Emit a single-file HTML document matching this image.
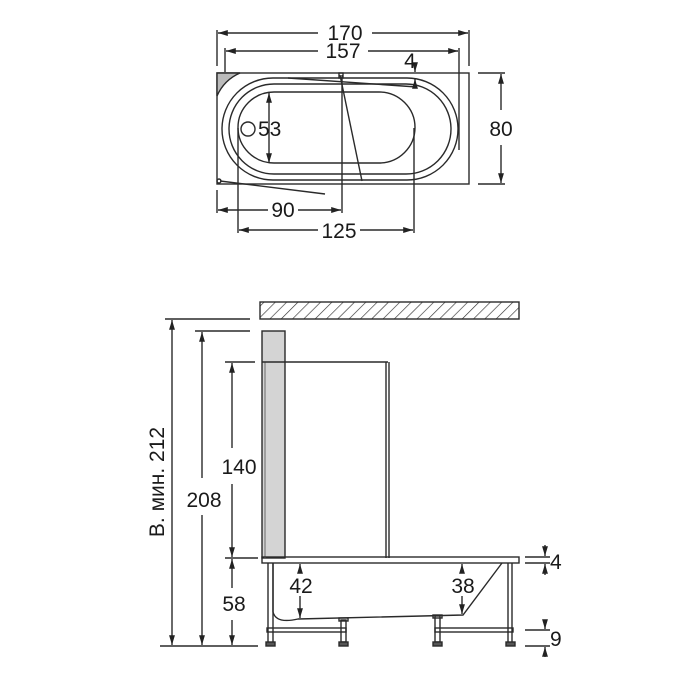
<!DOCTYPE html>
<html><head><meta charset="utf-8"><style>
html,body{margin:0;padding:0;background:#fff;}
svg{display:block;}
text{font-family:"Liberation Sans",sans-serif;fill:#1a1a1a;font-size:21px;}
</style></head><body>
<svg width="700" height="700" viewBox="0 0 700 700" xmlns="http://www.w3.org/2000/svg">
<defs>
<pattern id="h" width="8" height="8" patternUnits="userSpaceOnUse" patternTransform="rotate(45)">
<line x1="0" y1="0" x2="0" y2="8" stroke="#333" stroke-width="1.3"/>
</pattern>
<marker id="a" viewBox="0 0 10 10" refX="10" refY="5" markerWidth="7" markerHeight="7" orient="auto-start-reverse">
<path d="M0,2 L10,5 L0,8 z" fill="#222"/>
</marker>
</defs>
<g stroke="#2a2a2a" stroke-width="1.4" fill="none">
<!-- TOP VIEW -->
<rect x="217" y="73" width="252" height="111"/>
<path d="M217,73 L240,73 Q224,80 217,96 Z" fill="#bbb"/>
<rect x="222" y="78" width="236" height="102" rx="51"/>
<rect x="229" y="84" width="222" height="90" rx="45"/>
<rect x="238" y="92" width="177" height="71" rx="36"/>
<line x1="288" y1="78" x2="417" y2="87"/>
<line x1="340" y1="75" x2="362" y2="181"/>
<rect x="339" y="73" width="4" height="5"/>
<line x1="220" y1="181" x2="325" y2="194"/>
<circle cx="219" cy="181" r="2"/>
<circle cx="248" cy="129" r="7"/>
<!-- dims top -->
<line x1="217" y1="30" x2="217" y2="66"/><line x1="469" y1="30" x2="469" y2="66"/>
<line x1="218" y1="33" x2="318" y2="33" marker-start="url(#a)"/><line x1="372" y1="33" x2="468" y2="33" marker-end="url(#a)"/>
<line x1="225" y1="48" x2="225" y2="72"/><line x1="459" y1="48" x2="459" y2="150"/>
<line x1="226" y1="51" x2="318" y2="51" marker-start="url(#a)"/><line x1="368" y1="51" x2="458" y2="51" marker-end="url(#a)"/>
<line x1="415" y1="64" x2="415" y2="72" marker-end="url(#a)"/>
<line x1="415" y1="88" x2="415" y2="79" marker-end="url(#a)"/>
<line x1="478" y1="73" x2="505" y2="73"/><line x1="478" y1="184" x2="505" y2="184"/>
<line x1="501" y1="74" x2="501" y2="110" marker-start="url(#a)"/><line x1="501" y1="145" x2="501" y2="183" marker-end="url(#a)"/>
<line x1="269" y1="93" x2="269" y2="163" marker-start="url(#a)" marker-end="url(#a)"/>
<line x1="217" y1="190" x2="217" y2="213"/><line x1="342" y1="75" x2="342" y2="213"/>
<line x1="218" y1="210" x2="268" y2="210" marker-start="url(#a)"/><line x1="298" y1="210" x2="341" y2="210" marker-end="url(#a)"/>
<line x1="238" y1="128" x2="238" y2="233"/><line x1="414" y1="128" x2="414" y2="233"/>
<line x1="239" y1="230" x2="318" y2="230" marker-start="url(#a)"/><line x1="360" y1="230" x2="413" y2="230" marker-end="url(#a)"/>

<!-- SIDE VIEW -->
<rect x="260" y="302" width="259" height="17" fill="url(#h)"/>
<rect x="262" y="331" width="23" height="227" fill="#d4d4d4"/>
<line x1="265" y1="362" x2="265" y2="558" stroke="#888"/>
<line x1="262" y1="362" x2="388" y2="362"/>
<line x1="386" y1="362" x2="386" y2="558"/><line x1="389" y1="362" x2="389" y2="558"/>
<rect x="262" y="557" width="257" height="6"/>
<path d="M273,563 L273,612 Q276,624 298,619 L463,615 L502,563"/>
<!-- legs -->
<line x1="268" y1="563" x2="268" y2="642"/><line x1="273" y1="563" x2="273" y2="642"/>
<line x1="508" y1="563" x2="508" y2="642"/><line x1="512" y1="563" x2="512" y2="642"/>
<rect x="341" y="620" width="5" height="22"/><rect x="339" y="618" width="9" height="3"/>
<rect x="435" y="616" width="5" height="26"/><rect x="433" y="615" width="9" height="3"/>
<rect x="267" y="628" width="79" height="4"/><rect x="435" y="628" width="78" height="4"/>
<rect x="266" y="642" width="9" height="4" fill="#555"/><rect x="339" y="642" width="9" height="4" fill="#555"/>
<rect x="433" y="642" width="9" height="4" fill="#555"/><rect x="506" y="642" width="9" height="4" fill="#555"/>
<!-- dims side -->
<line x1="165" y1="319" x2="250" y2="319"/>
<line x1="195" y1="331" x2="250" y2="331"/>
<line x1="225" y1="362" x2="255" y2="362"/>
<line x1="225" y1="558" x2="258" y2="558"/>
<line x1="160" y1="646" x2="258" y2="646"/>
<line x1="172" y1="320" x2="172" y2="645" marker-start="url(#a)" marker-end="url(#a)"/>
<line x1="202" y1="332" x2="202" y2="478" marker-start="url(#a)"/><line x1="202" y1="515" x2="202" y2="645" marker-end="url(#a)"/>
<line x1="232" y1="363" x2="232" y2="448" marker-start="url(#a)"/><line x1="232" y1="484" x2="232" y2="557" marker-end="url(#a)"/>
<line x1="232" y1="559" x2="232" y2="588" marker-start="url(#a)"/><line x1="232" y1="620" x2="232" y2="645" marker-end="url(#a)"/>
<line x1="300" y1="564" x2="300" y2="570" marker-start="url(#a)"/><line x1="300" y1="596" x2="300" y2="618" marker-end="url(#a)"/>
<line x1="462" y1="564" x2="462" y2="570" marker-start="url(#a)"/><line x1="462" y1="596" x2="462" y2="614" marker-end="url(#a)"/>
<line x1="525" y1="557" x2="550" y2="557"/><line x1="525" y1="563" x2="550" y2="563"/>
<line x1="545" y1="545" x2="545" y2="556" marker-end="url(#a)"/><line x1="545" y1="575" x2="545" y2="564" marker-end="url(#a)"/>
<line x1="525" y1="630" x2="550" y2="630"/><line x1="525" y1="646" x2="550" y2="646"/>
<line x1="545" y1="620" x2="545" y2="629" marker-end="url(#a)"/><line x1="545" y1="657" x2="545" y2="647" marker-end="url(#a)"/>
</g>
<text x="345" y="40" text-anchor="middle">170</text>
<text x="343" y="58" text-anchor="middle">157</text>
<text x="410" y="68" text-anchor="middle">4</text>
<text x="501" y="136" text-anchor="middle">80</text>
<text x="258" y="136">53</text>
<text x="283" y="217" text-anchor="middle">90</text>
<text x="339" y="238" text-anchor="middle">125</text>
<text x="239" y="474" text-anchor="middle">140</text>
<text x="204" y="507" text-anchor="middle">208</text>
<text x="234" y="611" text-anchor="middle">58</text>
<text x="301" y="593" text-anchor="middle">42</text>
<text x="463" y="593" text-anchor="middle">38</text>
<text x="550" y="569">4</text>
<text x="550" y="646">9</text>
<text transform="translate(164,482) rotate(-90)" text-anchor="middle">В. мин. 212</text>
</svg>
</body></html>
